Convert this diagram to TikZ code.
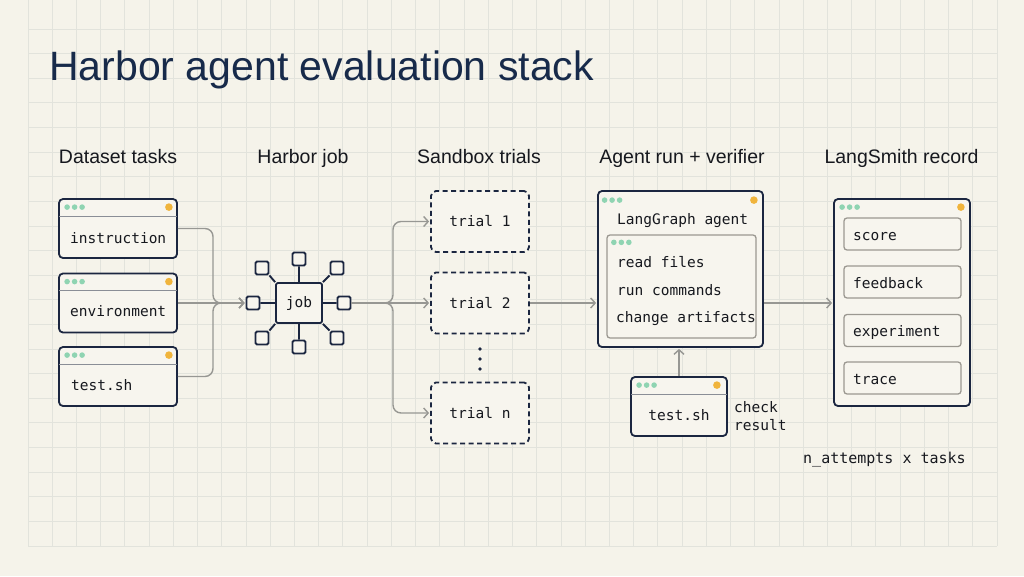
\documentclass[tikz,border=0pt]{standalone}
\usepackage{fontspec}
\setmainfont{Liberation Sans}
\newfontfamily\monof{DejaVu Sans Mono}
\usetikzlibrary{arrows.meta}
\definecolor{bgc}{HTML}{F5F3EA}
\definecolor{boxfill}{HTML}{F7F5EE}
\definecolor{navy}{HTML}{1B2640}
\definecolor{titlec}{HTML}{172A4A}
\definecolor{ink}{HTML}{16181E}
\definecolor{connc}{HTML}{979793}
\definecolor{subc}{HTML}{9B9891}
\definecolor{gridc}{HTML}{E2E3DC}
\definecolor{dotg}{HTML}{8FD4B2}
\definecolor{doto}{HTML}{F0B43C}
\definecolor{hdrc}{HTML}{8A8E96}
\newcommand\wdots[3]{%
  \fill[dotg] ([shift={(#2,#3)}]#1.north west) circle (2.8pt)
              ([shift={(#2+7.5,#3)}]#1.north west) circle (2.8pt)
              ([shift={(#2+15,#3)}]#1.north west) circle (2.8pt);}
\newcommand\wsun[3]{\fill[doto] ([shift={(-#2,#3)}]#1.north east) circle (3.8pt);}
\newcommand\whead[2]{\draw[hdrc,line width=1pt] ([shift={(1,#2)}]#1.north west) -- ([shift={(-1,#2)}]#1.north east);}
\begin{document}
\begin{tikzpicture}[x=1pt,y=-1pt,
  winbox/.style={draw=navy,line width=1.8pt,fill=boxfill,rounded corners=4pt,inner sep=0pt},
  subbox/.style={draw=subc,line width=1.3pt,fill=boxfill,rounded corners=3pt,inner sep=0pt},
  trialbox/.style={draw=navy,line width=1.8pt,dash pattern=on 5pt off 3.5pt,fill=boxfill,rounded corners=5pt,inner sep=0pt,minimum width=98pt,minimum height=61pt,font=\monof\fontsize{14.5}{17}\selectfont,text=ink},
  jsq/.style={draw=navy,line width=1.8pt,fill=boxfill,rounded corners=1.5pt,minimum size=13pt,inner sep=0pt},
  monotxt/.style={font=\monof\fontsize{14.5}{17}\selectfont,text=ink,inner sep=0pt},
  headtxt/.style={font=\fontsize{19.5}{22}\selectfont,text=ink,inner sep=0pt,anchor=base},
  connline/.style={draw=connc,line width=1.4pt},
  arrowend/.style={-{Straight Barb[length=4.5pt,width=10pt]},shorten >=1pt},
  jline/.style={draw=navy,line width=1.9pt}]
\useasboundingbox (0,0) rectangle (1024,576);
\fill[bgc] (0,0) rectangle (1024,576);
% grid
\foreach \i in {0,...,40} \draw[gridc,line width=0.9pt] ({28+\i*24.225},0) -- ({28+\i*24.225},546);
\foreach \j in {0,...,21} \draw[gridc,line width=0.9pt] (28,{29+\j*24.619}) -- (997,{29+\j*24.619});
% title
\node[font=\fontsize{41}{46}\selectfont,text=titlec,anchor=base west,inner sep=0pt] (title) at (49,80) {Harbor agent evaluation stack};
% headers
\node[headtxt] (h1) at (118,163) {Dataset tasks};
\node[headtxt] (h2) at (303,163) {Harbor job};
\node[headtxt] (h3) at (479,163) {Sandbox trials};
\node[headtxt] (h4) at (682,163) {Agent run + verifier};
\node[headtxt] (h5) at (901.5,163) {LangSmith record};
% dataset tasks
\node[winbox,minimum width=118pt,minimum height=59pt] (d1) at (118,228.5) {};
\node[winbox,minimum width=118pt,minimum height=59pt] (d2) at (118,303) {};
\node[winbox,minimum width=118pt,minimum height=59pt] (d3) at (118,376.5) {};
\foreach \n in {d1,d2,d3} {\wdots{\n}{9}{9}\wsun{\n}{9}{9}\whead{\n}{18}}
\node[monotxt,anchor=base west] (d1t) at (70,243) {instruction};
\node[monotxt,anchor=base west] (d2t) at (70,316) {environment};
\node[monotxt,anchor=base west] (d3t) at (71,390) {test.sh};
% job
\node[draw=navy,line width=1.8pt,fill=boxfill,rounded corners=2pt,minimum width=46pt,minimum height=40pt,inner sep=0pt,font=\monof\fontsize{14.5}{17}\selectfont,text=ink] (jc) at (299,303) {job};
\node[jsq] (jl) at (253,303) {};
\node[jsq] (jr) at (344,303) {};
\node[jsq] (jt) at (299,259) {};
\node[jsq] (jb) at (299,347) {};
\node[jsq] (jtl) at (262,268) {};
\node[jsq] (jtr) at (337,268) {};
\node[jsq] (jbl) at (262,338) {};
\node[jsq] (jbr) at (337,338) {};
\draw[jline] (jc.west) -- (jl.east) (jc.east) -- (jr.west) (jc.north) -- (jt.south) (jc.south) -- (jb.north)
  (jc.north west) -- (jtl.south east) (jc.north east) -- (jtr.south west)
  (jc.south west) -- (jbl.north east) (jc.south east) -- (jbr.north west);
% connectors into job
\coordinate (m) at (213,303);
\draw[connline,rounded corners=8pt,arrowend] (d1.east) -| (m) -- (jl.west);
\draw[connline,arrowend] (d2.east) -- (jl.west);
\draw[connline,rounded corners=8pt,arrowend] (d3.east) -| (m) -- (jl.west);
% trials
\node[trialbox] (t1) at (480,221.5) {trial 1};
\node[trialbox] (t2) at (480,303) {trial 2};
\node[trialbox] (tn) at (480,413) {trial n};
\fill[navy] (480,349) circle (1.9pt) (480,359) circle (1.9pt) (480,369) circle (1.9pt);
\coordinate (bx) at (393,303);
\draw[connline,arrowend] (jr.east) -- (t2.west);
\draw[connline,rounded corners=8pt,arrowend] (jr.east) -| ([yshift=20pt]bx) |- (t1.west);
\draw[connline,rounded corners=8pt,arrowend] (jr.east) -| ([yshift=-20pt]bx) |- (tn.west);
% agent
\node[winbox,minimum width=165pt,minimum height=156pt] (ag) at (680.5,269) {};
\wdots{ag}{7.5}{10}\wsun{ag}{10}{10}
\node[monotxt,anchor=base west] (agt) at (617,224) {LangGraph agent};
\node[subbox,minimum width=149pt,minimum height=103pt] (agi) at (681.5,286.5) {};
\wdots{agi}{7.5}{8}
\node[monotxt,anchor=base west] (a1) at (617,267) {read files};
\node[monotxt,anchor=base west] (a2) at (617,295) {run commands};
\node[monotxt,anchor=base west] (a3) at (616,322) {change artifacts};
% verifier
\node[winbox,minimum width=96pt,minimum height=59pt] (v) at (679,406.5) {};
\wdots{v}{9}{9}\wsun{v}{11}{9}\whead{v}{18}
\node[monotxt,anchor=base] (vt) at (679,420) {test.sh};
\node[monotxt,anchor=base west] (ck) at (734,412) {check};
\node[monotxt,anchor=base west] (rs) at (734,430) {result};
\draw[connline,arrowend] (v.north) -- (v.north |- ag.south);
\draw[connline,arrowend] (t2.east) -- (ag.west |- t2.east);
% langsmith
\node[winbox,minimum width=136pt,minimum height=207pt] (ls) at (902,302.5) {};
\wdots{ls}{9}{9}\wsun{ls}{10}{9}
\node[subbox,minimum width=117pt,minimum height=32pt] (s1) at (902.5,234) {};
\node[subbox,minimum width=117pt,minimum height=32pt] (s2) at (902.5,282) {};
\node[subbox,minimum width=117pt,minimum height=32pt] (s3) at (902.5,330.5) {};
\node[subbox,minimum width=117pt,minimum height=32pt] (s4) at (902.5,378) {};
\node[monotxt,anchor=base west] (s1t) at (853,240) {score};
\node[monotxt,anchor=base west] (s2t) at (853,288) {feedback};
\node[monotxt,anchor=base west] (s3t) at (853,336) {experiment};
\node[monotxt,anchor=base west] (s4t) at (853,384) {trace};
\draw[connline,arrowend] (ag.east |- t2.east) -- (ls.west |- t2.east);
\node[font=\monof\fontsize{15}{18}\selectfont,text=ink,inner sep=0pt,anchor=base west] (na) at (803,463) {n\_attempts x tasks};
\end{tikzpicture}
\end{document}
